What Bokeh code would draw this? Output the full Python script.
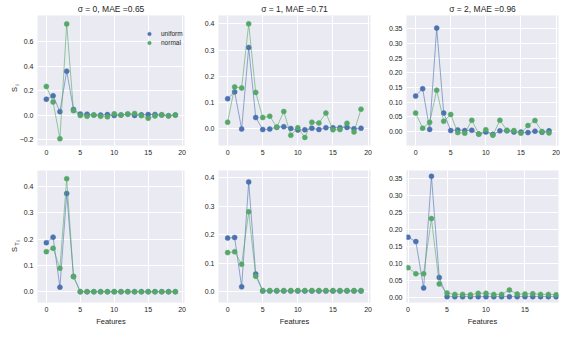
import math
from bokeh.plotting import figure
from bokeh.layouts import gridplot
from bokeh.models import FixedTicker, Range1d, Label, Legend, LegendItem
from bokeh.embed import file_html
from bokeh.resources import INLINE

features = list(range(20))
titles = ["σ = 0, MAE =0.65", "σ = 1, MAE =0.71", "σ = 2, MAE =0.96"]
series_names = ["uniform", "normal"]
x_label = "Features"

# First-order indices S_i
s1_uniform_sig0 = [0.13, 0.158, 0.028, 0.36, 0.046, 0.008, 0.007, 0.0, 0.0, 0.004,
                   -0.004, 0.0, 0.007, -0.003, 0.002, 0.004, 0.005, 0.0, -0.005, 0.0]
s1_normal_sig0 = [0.235, 0.107, -0.194, 0.748, 0.036, -0.004, -0.01, 0.0, -0.01, -0.015,
                  0.01, 0.0, 0.008, 0.013, -0.005, -0.026, -0.007, 0.003, -0.008, 0.0]
s1_uniform_sig1 = [0.114, 0.14, -0.002, 0.31, 0.042, -0.004, -0.002, 0.005, 0.007, 0.0,
                   -0.006, -0.005, 0.001, -0.004, 0.003, 0.003, 0.003, 0.004, -0.001, 0.001]
s1_normal_sig1 = [0.024, 0.159, 0.155, 0.40, 0.138, 0.042, 0.047, 0.005, 0.065, -0.026,
                  0.003, -0.034, 0.024, 0.021, 0.059, -0.005, -0.004, 0.02, -0.013, 0.074]
s1_uniform_sig2 = [0.121, 0.146, 0.007, 0.353, 0.063, 0.003, 0.005, 0.003, 0.004, -0.009,
                   -0.002, -0.01, 0.002, 0.002, -0.002, -0.002, -0.004, 0.001, -0.003, 0.002]
s1_normal_sig2 = [0.063, 0.011, 0.031, 0.141, 0.035, 0.058, -0.004, -0.006, 0.038, -0.009,
                  0.006, -0.013, 0.038, 0.004, 0.003, -0.006, 0.02, 0.037, 0.0, -0.005]

# Total-order indices S_Ti
st_uniform_sig0 = [0.186, 0.207, 0.017, 0.373, 0.058] + [0.0] * 15
st_normal_sig0 = [0.152, 0.165, 0.089, 0.429, 0.057] + [0.0] * 15
st_uniform_sig1 = [0.188, 0.19, 0.017, 0.385, 0.062] + [0.002] * 15
st_normal_sig1 = [0.137, 0.14, 0.096, 0.28, 0.054] + [0.004] * 15
st_uniform_sig2 = [0.178, 0.165, 0.028, 0.358, 0.059] + [0.002] * 15
st_normal_sig2 = [0.088, 0.07, 0.07, 0.233, 0.04, 0.013, 0.009, 0.009, 0.008, 0.012,
                  0.012, 0.009, 0.009, 0.022, 0.01, 0.01, 0.011, 0.009, 0.009, 0.008]

# axis ticks
xticks_full = [0, 5, 10, 15, 20]
xticks_short = [0, 5, 10, 15]
yticks_tl = [-0.2, 0.0, 0.2, 0.4, 0.6]
yticks_tenths = [0.0, 0.1, 0.2, 0.3, 0.4]
yticks_twentieths = [0.0, 0.05, 0.1, 0.15, 0.2, 0.25, 0.3, 0.35]

BLUE = "#4C72B0"
GREEN = "#55A868"
BG = "#EAEAF2"
TXT = "#262626"
FONT = "Liberation Sans"

col_w = [192, 188, 187]
col_left = [34, 26, 26]
col_right = [8, 10, 9]
row_h = [158, 170]
row_top = [13, 12]
row_bot = [13, 26]


def fmt(v, nd):
    s = f"{v:.{nd}f}"
    return s.replace("-", "\u2212")


def add_ylabel(p, r, sub):
    # rotated "S" with subscripts, placed in the left border (canvas units, not clipped)
    yc = 89 if r == 0 else 91
    xl = 14
    common = dict(x_units="canvas", y_units="canvas", angle=math.pi / 2,
                  text_font=FONT, text_color=TXT, text_align="center",
                  text_baseline="middle")
    p.add_layout(Label(x=xl, y=yc, text="S", text_font_size="7.5px", **common), "left")
    if sub == "i":
        p.add_layout(Label(x=xl + 2.5, y=yc - 4.5, text="i",
                           text_font_size="5.5px", **common), "left")
    else:
        p.add_layout(Label(x=xl + 2.5, y=yc - 5.5, text="T",
                           text_font_size="5.5px", **common), "left")
        p.add_layout(Label(x=xl + 4, y=yc - 8.5, text="i",
                           text_font_size="4.5px", **common), "left")


def make_panel(r, c, u, n, yticks, nd, yr, xr, xticks, title, legend=False, ylab=None):
    p = figure(width=col_w[c], height=row_h[r], output_backend="svg",
               toolbar_location=None, x_range=Range1d(*xr), y_range=Range1d(*yr),
               min_border_left=col_left[c], min_border_right=col_right[c],
               min_border_top=row_top[r], min_border_bottom=row_bot[r],
               background_fill_color=BG, border_fill_color="white")
    p.outline_line_color = None
    if title:
        p.title.text = title
        p.title.text_font = FONT
        p.title.text_font_size = "8.5px"
        p.title.text_font_style = "normal"
        p.title.text_color = TXT
        p.title.align = "center"
        p.title.standoff = 3
    for ax in (p.xaxis[0], p.yaxis[0]):
        ax.axis_line_color = None
        ax.major_tick_line_color = None
        ax.minor_tick_line_color = None
        ax.major_tick_out = 0
        ax.major_tick_in = 0
        ax.minor_tick_out = 0
        ax.major_label_text_font = FONT
        ax.major_label_text_font_size = "7px"
        ax.major_label_text_color = TXT
        ax.major_label_standoff = 4
    p.xaxis.ticker = FixedTicker(ticks=xticks)
    p.yaxis.ticker = FixedTicker(ticks=yticks)
    p.yaxis.major_label_overrides = {t: fmt(t, nd) for t in yticks}
    p.xaxis.major_label_overrides = {t: str(t) for t in xticks}
    p.xgrid.ticker = FixedTicker(ticks=xticks)
    p.ygrid.ticker = FixedTicker(ticks=yticks)
    for g in (p.xgrid[0], p.ygrid[0]):
        g.grid_line_color = "white"
        g.grid_line_width = 1
    if r == 1:
        p.xaxis.axis_label = x_label
        p.xaxis.axis_label_text_font = FONT
        p.xaxis.axis_label_text_font_size = "7.5px"
        p.xaxis.axis_label_text_font_style = "normal"
        p.xaxis.axis_label_text_color = TXT
        p.xaxis.axis_label_standoff = 2

    p.line(features, u, color=BLUE, line_width=0.8, line_alpha=0.75)
    bu = p.scatter(features, u, size=5, fill_color=BLUE, line_color=BLUE, line_width=0.5)
    p.line(features, n, color=GREEN, line_width=0.8, line_alpha=0.75)
    bn = p.scatter(features, n, size=5, fill_color=GREEN, line_color=GREEN, line_width=0.5)

    if legend:
        lg = Legend(items=[LegendItem(label=series_names[0], renderers=[bu]),
                           LegendItem(label=series_names[1], renderers=[bn])],
                    location=(104, 96), margin=0, padding=2,
                    glyph_width=12, glyph_height=9, label_height=9,
                    spacing=-2, label_standoff=6,
                    label_text_font=FONT, label_text_font_size="6.5px",
                    label_text_color=TXT,
                    background_fill_alpha=0, border_line_alpha=0)
        p.add_layout(lg)
    if ylab:
        add_ylabel(p, r, ylab)
    return p


xr_full = (-1.3, 20.35)
xr_short = (-0.2, 19.3)

p00 = make_panel(0, 0, s1_uniform_sig0, s1_normal_sig0, yticks_tl, 1, (-0.25, 0.817),
                 xr_full, xticks_full, titles[0], legend=True, ylab="i")
p01 = make_panel(0, 1, s1_uniform_sig1, s1_normal_sig1, yticks_tenths, 1, (-0.065, 0.432),
                 xr_full, xticks_full, titles[1])
p02 = make_panel(0, 2, s1_uniform_sig2, s1_normal_sig2, yticks_twentieths, 2, (-0.048, 0.396),
                 xr_full, xticks_full, titles[2])
p10 = make_panel(1, 0, st_uniform_sig0, st_normal_sig0, yticks_tenths, 1, (-0.041, 0.46),
                 xr_full, xticks_full, None, ylab="Ti")
p11 = make_panel(1, 1, st_uniform_sig1, st_normal_sig1, yticks_tenths, 1, (-0.038, 0.425),
                 xr_full, xticks_full, None)
p12 = make_panel(1, 2, st_uniform_sig2, st_normal_sig2, yticks_twentieths, 2, (-0.015, 0.375),
                 xr_short, xticks_short, None)

grid = gridplot([[p00, p01, p02], [p10, p11, p12]], toolbar_location=None)

open("out.html", "w").write(file_html(grid, INLINE))
